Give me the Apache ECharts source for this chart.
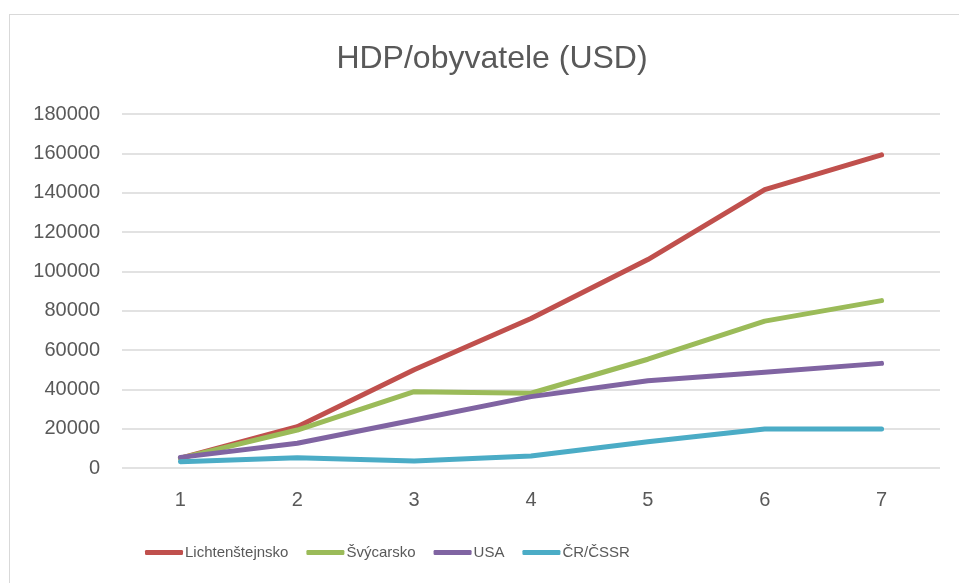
<!DOCTYPE html>
<html>
<head>
<meta charset="utf-8">
<script src="https://cdn.jsdelivr.net/npm/echarts@6/dist/echarts.min.js"></script>
<style>
html,body{margin:0;padding:0;background:#fff;overflow:hidden;}
#frame{position:absolute;left:9px;top:14px;width:2000px;height:2000px;border:1px solid #d9d9d9;box-sizing:border-box;}
#main{position:absolute;left:0;top:0;width:959px;height:583px;}
</style>
</head>
<body>
<div id="frame"></div>
<div id="main"></div>
<script>
const categories = ['1','2','3','4','5','6','7'];
const lichtenstejnsko = [5000, 21000, 50000, 76000, 106000, 141500, 159200];
const svycarsko = [5000, 19300, 38800, 38000, 55300, 74700, 85100];
const usa = [5400, 12600, 24400, 36300, 44400, 48700, 53200];
const cr = [3200, 5200, 3600, 6100, 13400, 19800, 19800];
const seriesNames = ['Lichtenštejnsko', 'Švýcarsko', 'USA', 'ČR/ČSSR'];
const colors = ['#C0504D', '#9BBB59', '#8064A2', '#4BACC6'];
const dataSets = [lichtenstejnsko, svycarsko, usa, cr];

const chart = echarts.init(document.getElementById('main'));
const font = '"Liberation Sans", Arial, sans-serif';
chart.setOption({
  animation: false,
  title: {
    text: 'HDP/obyvatele (USD)',
    left: 487,
    textAlign: 'center',
    top: 38,
    textStyle: {fontFamily: font, fontSize: 32, fontWeight: 'normal', color: '#595959'}
  },
  grid: {left: 122, right: 19, top: 114, bottom: 115, containLabel: false},
  xAxis: {
    type: 'category',
    data: categories,
    boundaryGap: true,
    axisLine: {show: false},
    axisTick: {show: false},
    axisLabel: {fontFamily: font, fontSize: 20, color: '#595959', margin: 22}
  },
  yAxis: {
    type: 'value',
    min: 0,
    max: 180000,
    interval: 20000,
    axisLine: {show: false},
    axisTick: {show: false},
    splitLine: {lineStyle: {color: '#d9d9d9', width: 1.5}},
    axisLabel: {fontFamily: font, fontSize: 20, color: '#595959', margin: 22, formatter: v => String(v)}
  },
  legend: {
    left: 140,
    top: 540,
    icon: 'roundRect',
    itemWidth: 38,
    itemHeight: 5,
    itemGap: 18,
    textStyle: {fontFamily: font, fontSize: 15, color: '#595959', padding: [0,0,0,-3]},
    data: seriesNames
  },
  series: dataSets.map((d, i) => ({
    name: seriesNames[i],
    type: 'line',
    data: d,
    showSymbol: false,
    symbol: 'none',
    color: colors[i],
    lineStyle: {width: 5, color: colors[i], cap: 'round', join: 'round'}
  }))
});
</script>
</body>
</html>
